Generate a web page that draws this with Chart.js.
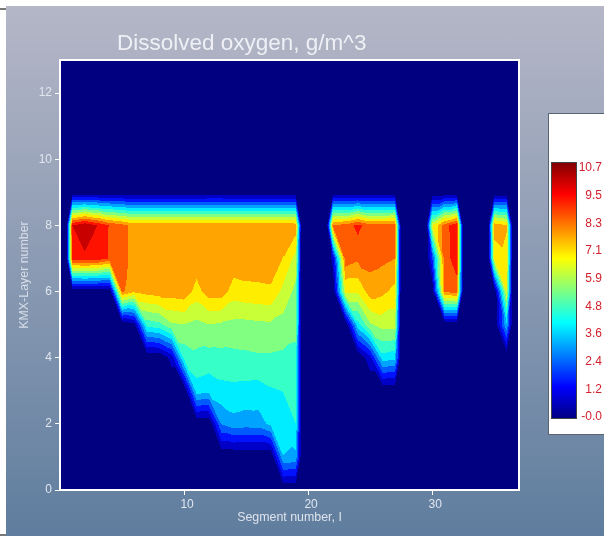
<!DOCTYPE html>
<html>
<head>
<meta charset="utf-8">
<title>Dissolved oxygen</title>
<script src="https://cdn.jsdelivr.net/npm/chart.js@4"></script>
<style>
    html, body { margin: 0; padding: 0; background: #fff; overflow: hidden; }
    #fondo {
        position: absolute; left: 6px; top: 6px; width: 598px; height: 530px;
        background: linear-gradient(#b5b7c7, #5f7d9e);
    }
    .raya { position: absolute; left: 0; width: 6px; height: 2px; background: #777; }
    #grafica { position: absolute; left: 0; top: 0; }
</style>
</head>
<body>
<div id="fondo"></div>
<div class="raya" style="top: 8px"></div>
<div class="raya" style="top: 534px"></div>
<canvas id="grafica" width="604" height="536"></canvas>
<script>
// Dissolved oxygen (g/m^3) per layer, one value for each segment 1..36
const layer8 = [9.28, 9.9, 9.28, 8.5, 8.1, 7.6, 7.6, 7.6, 7.6, 7.6, 7.6, 7.7, 7.7, 7.6, 7.6, 7.6, 7.6, 7.6, 7.56, 0, 0, 8.0, 8.1, 8.8, 8.1, 8.1, 8.2, 0, 0, 6.3, 8.2, 9.2, 0, 0, 7.6, 7.2];
const layer7 = [9.0, 9.12, 9.0, 8.5, 8.1, 7.6, 7.7, 7.7, 7.7, 7.7, 7.6, 7.7, 7.7, 7.6, 7.6, 7.6, 7.6, 7.1, 6.14, 0, 0, 1.0, 8.3, 8.0, 8.1, 8.0, 7.85, 0, 0, 2.0, 8.2, 9.0, 0, 0, 6.5, 6.9];
const layer6 = [0, 0, 0, 0, 8.0, 7.2, 7.4, 7.5, 7.5, 7.6, 6.85, 7.5, 7.5, 6.8, 6.9, 6.95, 7.0, 6.2, 5.5, 0, 0, 0, 6.5, 6.5, 7.5, 7.3, 6.9, 0, 0, 0, 8.0, 8.2, 0, 0, 0, 6.4];
const layer5 = [0, 0, 0, 0, 0, 0.5, 4.6, 4.8, 5.6, 5.7, 5.5, 5.7, 5.6, 5.5, 5.5, 5.55, 5.6, 5.45, 5.2, 0, 0, 0, 0, 4.0, 5.6, 6.0, 6.0, 0, 0, 0, 0, 0, 0, 0, 0, 3.5];
const layer4 = [0, 0, 0, 0, 0, 0, 0, 0, 1.0, 4.5, 4.8, 4.7, 4.75, 4.8, 4.85, 4.9, 4.9, 4.85, 4.8, 0, 0, 0, 0, 0, 1.2, 4.0, 3.8, 0, 0, 0, 0, 0, 0, 0, 0, 0];
const layer3 = [0, 0, 0, 0, 0, 0, 0, 0, 0, 0, 3.95, 3.8, 4.05, 4.1, 4.05, 4.0, 4.2, 4.3, 4.55, 0, 0, 0, 0, 0, 0, 0, 0, 0, 0, 0, 0, 0, 0, 0, 0, 0];
const layer2 = [0, 0, 0, 0, 0, 0, 0, 0, 0, 0, 0, 0, 2.9, 3.3, 3.2, 3.25, 3.75, 3.95, 4.28, 0, 0, 0, 0, 0, 0, 0, 0, 0, 0, 0, 0, 0, 0, 0, 0, 0];
const layer1 = [0, 0, 0, 0, 0, 0, 0, 0, 0, 0, 0, 0, 0, 0, 0, 0, 0, 3.55, 3.4, 0, 0, 0, 0, 0, 0, 0, 0, 0, 0, 0, 0, 0, 0, 0, 0, 0];

const capas = { 1: layer1, 2: layer2, 3: layer3, 4: layer4, 5: layer5, 6: layer6, 7: layer7, 8: layer8 };
const valorMax = 10.7;
const numBandas = 15;
const colorbarLabels = ['10.7', '9.5', '8.3', '7.1', '5.9', '4.8', '3.6', '2.4', '1.2', '-0.0'];

// Mapa de color jet, x entre 0 y 1
function jet(x) {
    const c = v => Math.round(255 * Math.max(0, Math.min(1, 1.5 - Math.abs(v))));
    return [c(4 * x - 3), c(4 * x - 2), c(4 * x - 1)];
}

const paleta = [];
for (let j = 0; j < numBandas; j++) paleta.push(jet(j / (numBandas - 1)));

function valorEn(seg, capa) {
    const fila = capas[capa];
    if (!fila || seg < 1 || seg > fila.length) return 0;
    return fila[seg - 1];
}

function columnaSeca(seg) {
    return Object.keys(capas).every(capa => valorEn(seg, +capa) === 0);
}

// Cada celda se parte en dos triangulos por la diagonal de valores mas parecidos.
// Junto a una columna seca el valor cae en media celda.
function valorCelda(s, k) {
    const i = Math.floor(s), k0 = Math.floor(k);
    let t = s - i;
    const u = k - k0;
    const secaIzq = columnaSeca(i), secaDer = columnaSeca(i + 1);
    if (secaDer && !secaIzq) t = Math.min(1, t * 2);
    if (secaIzq && !secaDer) t = Math.max(0, (t - 0.5) * 2);
    const ll = valorEn(i, k0), lr = valorEn(i + 1, k0);
    const ul = valorEn(i, k0 + 1), ur = valorEn(i + 1, k0 + 1);
    if (Math.abs(ul - lr) <= Math.abs(ll - ur)) {
        if (t + u <= 1) return ll + (lr - ll) * t + (ul - ll) * u;
        return ur + (ul - ur) * (1 - t) + (lr - ur) * (1 - u);
    }
    if (u <= t) return ll + (lr - ll) * t + (ur - lr) * u;
    return ll + (ul - ll) * u + (ur - ul) * t;
}

// Dibuja el campo de contornos a traves de las escalas del grafico
const contornos = {
    id: 'contornos',
    beforeDatasetsDraw(chart) {
        const { ctx, chartArea: a, scales } = chart;
        const w = Math.round(a.right - a.left), h = Math.round(a.bottom - a.top);
        const img = ctx.createImageData(w, h);
        for (let py = 0; py < h; py++) {
            const k = scales.y.getValueForPixel(a.top + py + 0.5);
            for (let px = 0; px < w; px++) {
                const s = scales.x.getValueForPixel(a.left + px + 0.5);
                const v = valorCelda(s, k);
                const j = Math.min(numBandas - 1, Math.floor(v / (valorMax / numBandas)));
                const c = paleta[j];
                const o = (py * w + px) * 4;
                img.data[o] = c[0];
                img.data[o + 1] = c[1];
                img.data[o + 2] = c[2];
                img.data[o + 3] = 255;
            }
        }
        ctx.putImageData(img, Math.round(a.left), Math.round(a.top));
    },
    afterDraw(chart) {
        const { ctx, chartArea: a } = chart;
        ctx.save();
        // marco blanco del area
        ctx.strokeStyle = '#fff';
        ctx.lineWidth = 2;
        ctx.strokeRect(a.left, a.top, a.right - a.left, a.bottom - a.top);

        // titulo
        ctx.fillStyle = '#eef0f5';
        ctx.font = '22.5px "Liberation Sans"';
        ctx.textAlign = 'left';
        ctx.textBaseline = 'middle';
        ctx.fillText('Dissolved oxygen, g/m^3', 117, 44);

        // panel de la barra de color
        ctx.fillStyle = '#fff';
        ctx.fillRect(548, 113, 56, 322);
        ctx.strokeStyle = '#5a6470';
        ctx.lineWidth = 1;
        ctx.strokeRect(548.5, 113.5, 60, 321);
        const grad = ctx.createLinearGradient(0, 162, 0, 419);
        for (let n = 0; n <= 40; n++) {
            const c = jet(1 - n / 40);
            grad.addColorStop(n / 40, `rgb(${c[0]},${c[1]},${c[2]})`);
        }
        ctx.fillStyle = grad;
        ctx.fillRect(551, 162, 26, 257);
        ctx.strokeStyle = '#444';
        ctx.strokeRect(551.5, 162.5, 25, 256);

        ctx.fillStyle = '#d2202c';
        ctx.font = '12px "Liberation Sans"';
        ctx.textAlign = 'right';
        colorbarLabels.forEach((txt, n) => {
            ctx.fillText(txt, 602, 168 + n * 27.67);
        });
        ctx.restore();
    }
};

new Chart(document.getElementById('grafica'), {
    type: 'scatter',
    data: { datasets: [{ data: [], pointRadius: 0 }] },
    plugins: [contornos],
    options: {
        responsive: false,
        animation: false,
        layout: { padding: { top: 60, right: 85, left: 0, bottom: 0 } },
        plugins: { legend: { display: false }, tooltip: { enabled: false } },
        scales: {
            x: {
                type: 'linear',
                min: 0,
                max: 37,
                afterFit: s => { s.height = 46; },
                afterBuildTicks: s => { s.ticks = s.ticks.filter(t => t.value > 0 && t.value % 10 === 0); },
                ticks: { stepSize: 10, color: '#e0e6ee', font: { family: 'Liberation Sans', size: 12 }, maxRotation: 0, labelOffset: 3, padding: 2 },
                grid: { drawOnChartArea: false, color: '#fff', tickLength: 5 },
                border: { color: '#fff', width: 2 },
                title: { display: true, text: 'Segment number, I', color: '#dde3ec', font: { family: 'Liberation Sans', size: 12.4 }, padding: { top: 1, bottom: 11 } }
            },
            y: {
                type: 'linear',
                min: 0,
                max: 13,
                afterFit: s => { s.width = 60; },
                afterBuildTicks: s => { s.ticks = s.ticks.filter(t => t.value % 2 === 0); },
                ticks: { stepSize: 2, color: '#e0e6ee', font: { family: 'Liberation Sans', size: 12 }, padding: 3 },
                grid: { drawOnChartArea: false, color: '#fff', tickLength: 5 },
                border: { color: '#fff', width: 2 },
                title: { display: true, text: 'KMX-Layer number', color: '#d8dee8', font: { family: 'Liberation Sans', size: 12.4 }, padding: { top: 17, bottom: 0 } }
            }
        }
    }
});
</script>
</body>
</html>
